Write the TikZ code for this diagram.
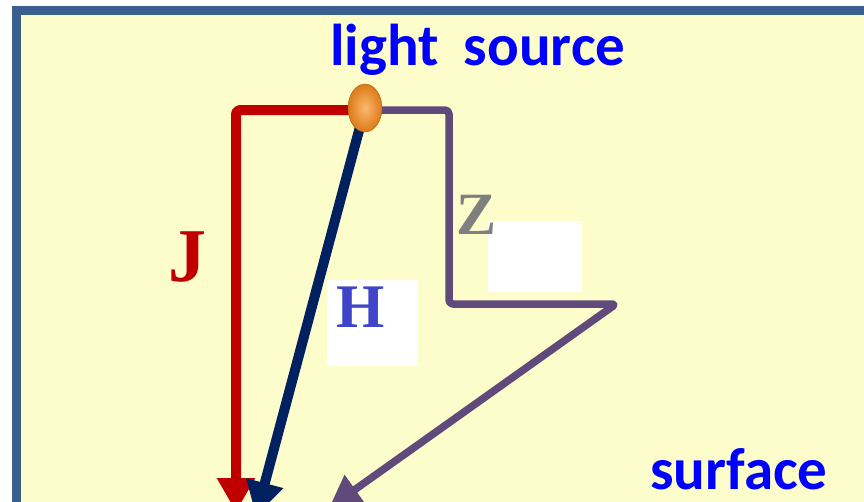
\documentclass[tikz,border=0pt]{standalone}
\usepackage{fontspec}
\setmainfont{Liberation Serif}
\newfontfamily\labelfont{Carlito}
\usetikzlibrary{arrows.meta,shapes.geometric}
\definecolor{bgyellow}{HTML}{FDFCCB}
\definecolor{frameblue}{HTML}{3A5F8E}
\definecolor{jred}{HTML}{C00000}
\definecolor{hnavy}{HTML}{002060}
\definecolor{zpurple}{HTML}{604A7B}
\definecolor{txtblue}{HTML}{0000FF}
\definecolor{hblue}{HTML}{3F44C8}
\definecolor{zgray}{HTML}{7F7F7F}
\definecolor{srcin}{HTML}{FBB86E}
\definecolor{srcout}{HTML}{DD7A18}
\tikzset{
  vec/.style={line join=round, rounded corners=4pt},
  redvec/.style={vec, draw=jred, line width=10pt, -{Triangle[length=34pt,width=36pt]}},
  navyvec/.style={vec, draw=hnavy, line width=10pt, -{Triangle[length=34pt,width=36pt]}},
  purplevec/.style={vec, draw=zpurple, line width=7.5pt, -{Triangle[length=32pt,width=34pt]}},
  bluelabel/.style={font=\labelfont\bfseries\fontsize{59}{62}\selectfont, text=txtblue, inner sep=0pt},
  letter/.style={font=\bfseries, inner sep=0pt},
  whitebox/.style={fill=white, draw=none, inner sep=0pt}
}
\begin{document}
\begin{tikzpicture}[x=1pt,y=-1pt]
\useasboundingbox (0,0) rectangle (864,501);
\clip (0,0) rectangle (864,501);
\fill[white] (0,0) rectangle (864,501);
\fill[bgyellow] (16,10) rectangle (900,540);
\draw[frameblue, line width=9pt] (16,10) rectangle (900,540);
% white boxes
\node[whitebox, minimum width=91pt, minimum height=86pt] (hbox) at (372.5,323) {};
\node[whitebox, minimum width=94pt, minimum height=71pt] (zbox) at (535,256.5) {};
% light source
\node[ellipse, inner sep=0pt, minimum width=34pt, minimum height=48pt] (src) at (365,108) {};
\coordinate (jc) at (236,110);
\coordinate (jt) at (236,512);
\coordinate (ht) at (256,516);
\coordinate (z1) at (449,110);
\coordinate (z2) at (449,304);
\coordinate (z3) at (616,304);
\coordinate (zt) at (329,508);
\draw[redvec] (src.center |- jc) -- (jc) -- (jt);
\draw[purplevec] (src.center |- z1) -- (z1) -- (z2) -- (z3) -- (zt);
\draw[navyvec] (src.center) -- (ht);
\node[ellipse, inner sep=0pt, minimum width=34pt, minimum height=48pt,
      inner color=srcin, outer color=srcout, draw=srcout!80!black, line width=0.4pt] at (src) {};
% labels
\node[bluelabel, anchor=base west] (lsrc) at (330,65) {light\hspace{0.2em} source};
\node[bluelabel, anchor=base west] (surf) at (650,489) {surface};
\node[letter, text=jred, font=\bfseries\fontsize{76}{76}\selectfont] (J) at (187,257) {J};
\node[letter, text=hblue, font=\bfseries\fontsize{62}{62}\selectfont] (H) at (361,307) {H};
\node[letter, text=zgray, font=\bfseries\fontsize{60}{60}\selectfont] (Z) at (477,215) {Z};
\end{tikzpicture}
\end{document}
